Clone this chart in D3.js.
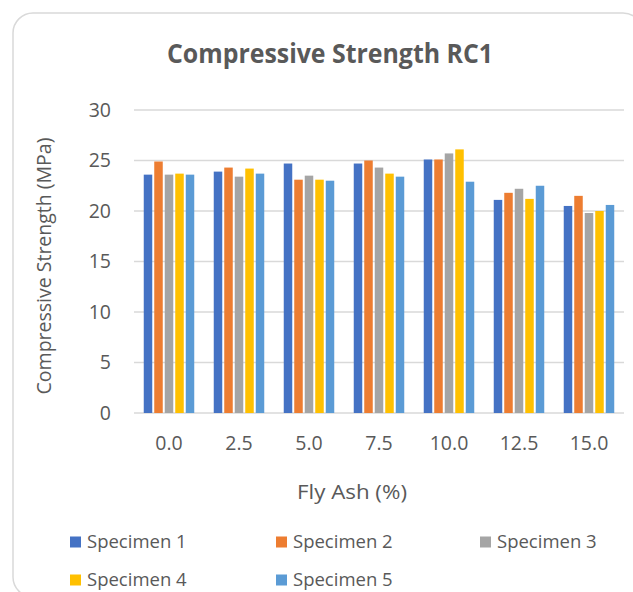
<!DOCTYPE html>
<html><head><meta charset="utf-8">
<script src="https://cdn.jsdelivr.net/npm/d3@7"></script>
<style>body{margin:0;background:#fff;} svg{display:block;font-family:"Open Sans",sans-serif;}</style>
</head><body>
<svg id="c" width="633" height="592"></svg>
<script>
const categories = ["0.0","2.5","5.0","7.5","10.0","12.5","15.0"];
const seriesNames = ["Specimen 1","Specimen 2","Specimen 3","Specimen 4","Specimen 5"];
const specimen1 = [23.6, 23.9, 24.7, 24.7, 25.1, 21.1, 20.5];
const specimen2 = [24.9, 24.3, 23.1, 25.0, 25.1, 21.8, 21.5];
const specimen3 = [23.6, 23.4, 23.5, 24.3, 25.7, 22.2, 19.8];
const specimen4 = [23.7, 24.2, 23.1, 23.7, 26.1, 21.2, 20.0];
const specimen5 = [23.6, 23.7, 23.0, 23.4, 22.9, 22.5, 20.6];
const yTicks = [0,5,10,15,20,25,30];
const colors = ["#4472C4","#ED7D31","#A5A5A5","#FFC000","#5B9BD5"];
const allSeries = [specimen1,specimen2,specimen3,specimen4,specimen5];

const svg = d3.select("#c");
const txt = "#595959";
svg.append("rect").attr("x",13).attr("y",13).attr("width",630).attr("height",584)
  .attr("rx",20).attr("fill","#fff").attr("stroke","#D9D9D9").attr("stroke-width",1.5);

svg.append("text").attr("x",330).attr("y",63).attr("text-anchor","middle")
  .attr("font-size",26).attr("font-weight","bold").attr("fill",txt)
  .attr("textLength",326).attr("lengthAdjust","spacingAndGlyphs").text("Compressive Strength RC1");

const L=134, R=624, T=110, B=413;
const x0 = d3.scaleBand().domain(categories).range([L,R]).paddingInner(0.25).paddingOuter(0.125);
const x1 = d3.scaleBand().domain(d3.range(5)).range([0,x0.bandwidth()]);
const y = d3.scaleLinear().domain([0,30]).range([B,T]);

const g = svg.append("g");
g.selectAll("line.grid").data(yTicks).join("line").attr("class","grid")
  .attr("x1",L).attr("x2",R).attr("y1",d=>y(d)).attr("y2",d=>y(d))
  .attr("stroke","#D9D9D9").attr("stroke-width",1.5);
g.selectAll("text.yt").data(yTicks).join("text").attr("class","yt")
  .attr("x",111).attr("y",d=>y(d)).attr("dy","0.35em").attr("text-anchor","end")
  .attr("font-size",19.5).attr("fill",txt).text(d=>d);

categories.forEach((c,i)=>{
  allSeries.forEach((s,j)=>{
    g.append("rect").attr("x",x0(c)+x1(j)+1).attr("width",x1.bandwidth()-2)
      .attr("y",y(s[i])).attr("height",y(0)-y(s[i])).attr("fill",colors[j]);
  });
});
g.selectAll("text.xt").data(categories).join("text").attr("class","xt")
  .attr("x",d=>x0(d)+x0.bandwidth()/2).attr("y",450).attr("text-anchor","middle")
  .attr("font-size",19.5).attr("fill",txt).text(d=>d);

svg.append("text").attr("x",352).attr("y",499).attr("text-anchor","middle")
  .attr("font-size",20).attr("fill",txt)
  .attr("textLength",110).attr("lengthAdjust","spacingAndGlyphs").text("Fly Ash (%)");
svg.append("text").attr("transform","translate(51,266) rotate(-90)").attr("text-anchor","middle")
  .attr("font-size",19.5).attr("fill",txt).text("Compressive Strength (MPa)");

const legPos = [[70,542],[276,542],[480,542],[70,580],[276,580]];
seriesNames.forEach((n,i)=>{
  const [lx,ly]=legPos[i];
  svg.append("rect").attr("x",lx).attr("y",ly-5.5).attr("width",11).attr("height",11).attr("fill",colors[i]);
  svg.append("text").attr("x",lx+17).attr("y",ly).attr("dy","0.35em").attr("font-size",18.5).attr("fill",txt).text(n);
});
</script>
</body></html>
